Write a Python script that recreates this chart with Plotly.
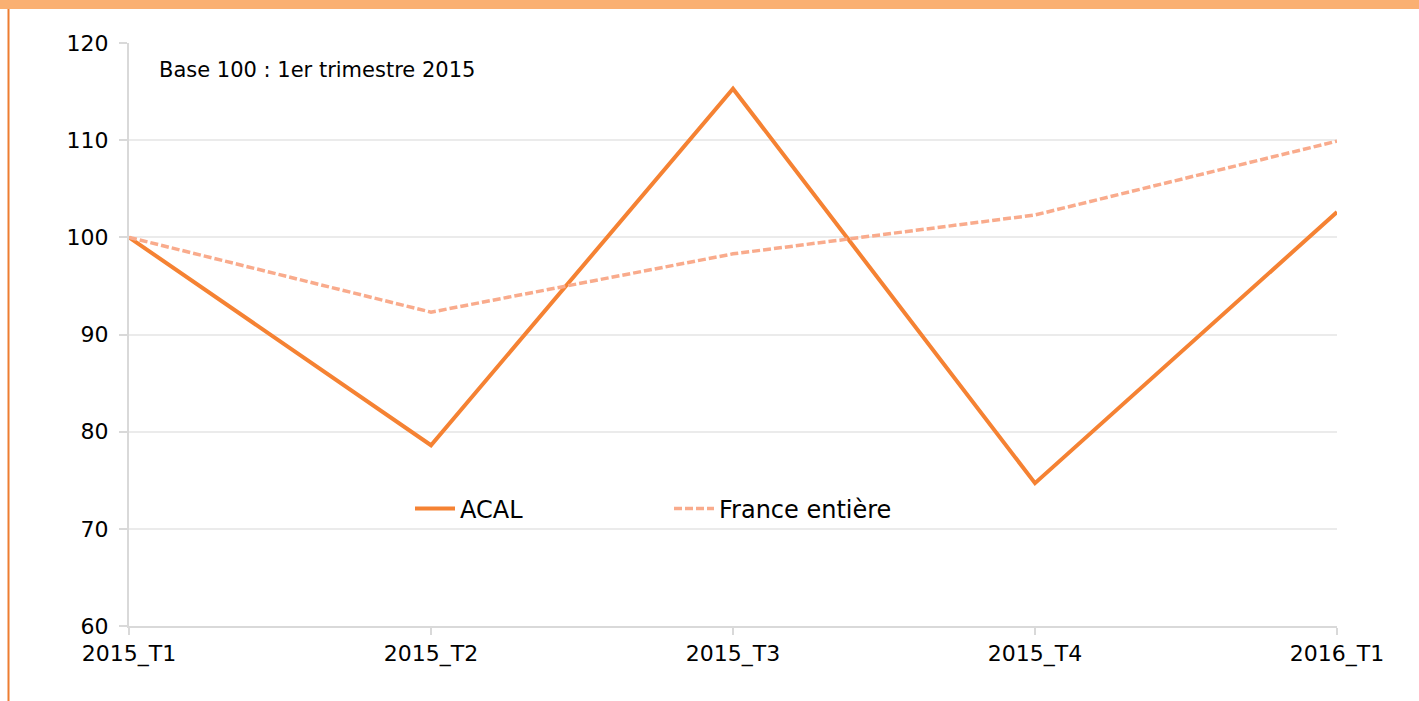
import plotly.graph_objects as go

categories = ["2015_T1", "2015_T2", "2015_T3", "2015_T4", "2016_T1"]
acal = [100, 78.6, 115.3, 74.7, 102.6]
france = [100, 92.3, 98.3, 102.3, 109.9]
y_ticks = [60, 70, 80, 90, 100, 110, 120]

W, H = 1419, 701
L, R, T, B = 129, 82, 43, 75
pw, ph = W - L - R, H - T - B

FONT = "DejaVu Sans"

fig = go.Figure()
fig.add_trace(go.Scatter(x=categories, y=acal, name="ACAL", mode="lines",
                         line=dict(color="#F58233", width=4)))
fig.add_trace(go.Scatter(x=categories, y=france, name="France entière", mode="lines",
                         line=dict(color="#F9AB8C", width=3.5, dash="8px,3px")))

def px_x(p):
    return (p - L) / pw

def px_y(p):
    return 1 - (p - T) / ph

shapes = [
    dict(type="rect", xref="paper", yref="paper", x0=px_x(0), x1=px_x(W), y0=px_y(9), y1=px_y(0),
         fillcolor="#FAB072", line=dict(width=0), layer="above"),
    dict(type="line", xref="paper", yref="paper", x0=px_x(8.5), x1=px_x(8.5), y0=px_y(H), y1=px_y(9),
         line=dict(color="#ED7D31", width=2)),
]

fig.update_layout(
    width=W, height=H,
    margin=dict(l=L, r=R, t=T, b=B),
    paper_bgcolor="white", plot_bgcolor="white",
    font=dict(family=FONT, size=21, color="#000000"),
    shapes=shapes,
    showlegend=True,
    legend=dict(orientation="h", x=px_x(410), y=px_y(509), yanchor="middle", xanchor="left",
                font=dict(size=24, family=FONT), entrywidth=204, bgcolor="rgba(0,0,0,0)",
                itemwidth=40),
    annotations=[dict(text="Base 100 : 1er trimestre 2015", xref="paper", yref="paper",
                      x=px_x(157), y=px_y(70), xanchor="left", yanchor="middle",
                      showarrow=False, font=dict(size=21, family=FONT))],
    xaxis=dict(type="category", range=[0, len(categories) - 1], showgrid=False,
               showline=True, linecolor="#D9D9D9", linewidth=2,
               ticks="outside", ticklen=7, tickcolor="#D9D9D9", tickwidth=2,
               tickfont=dict(size=22, family=FONT), zeroline=False),
    yaxis=dict(range=[60, 120], tickvals=y_ticks, showgrid=True, gridcolor="#EBEBEB", gridwidth=1.5,
               showline=True, linecolor="#D9D9D9", linewidth=2,
               ticks="outside", ticklen=8, tickcolor="#D9D9D9", tickwidth=2,
               tickfont=dict(size=22, family=FONT), zeroline=False, ticklabelstandoff=6),
)

fig.write_html("out.html", config={"displayModeBar": False},
               post_script="document.body.style.margin='0px';")
